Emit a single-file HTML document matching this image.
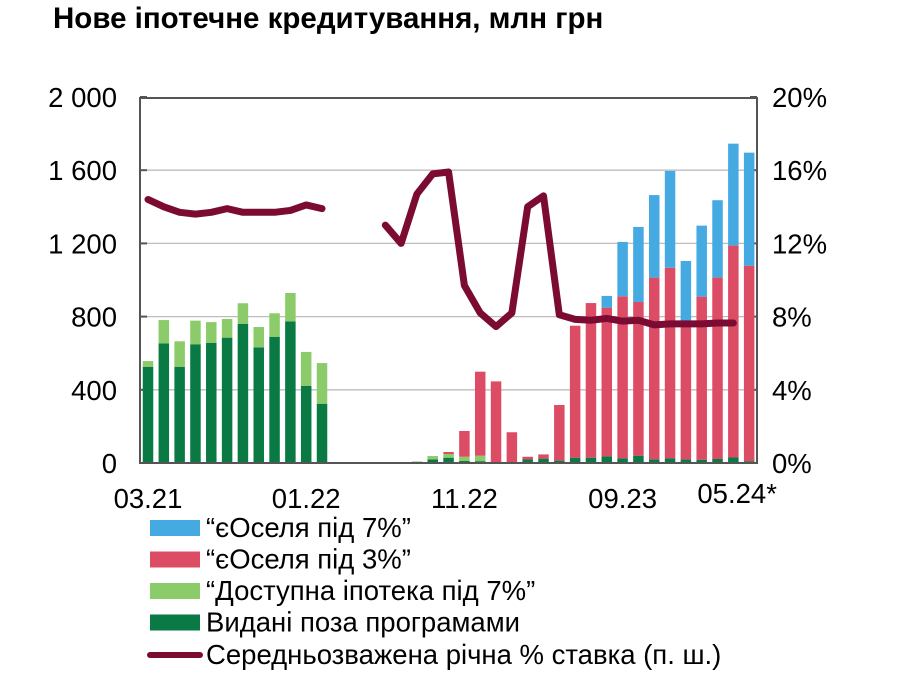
<!DOCTYPE html>
<html><head><meta charset="utf-8"><style>
body{margin:0;background:#fff;width:902px;height:675px;overflow:hidden;font-family:"Liberation Sans",Arial,sans-serif}
svg text{font-family:"Liberation Sans",Arial,sans-serif}
</style></head><body>
<svg id="c" width="902" height="675" xmlns="http://www.w3.org/2000/svg">
<text x="53" y="28" font-size="29.5" font-weight="bold" fill="#000">Нове іпотечне кредитування, млн грн</text>
</svg>
<script>
const months=["03.21","04.21","05.21","06.21","07.21","08.21","09.21","10.21","11.21","12.21","01.22","02.22","03.22","04.22","05.22","06.22","07.22","08.22","09.22","10.22","11.22","12.22","01.23","02.23","03.23","04.23","05.23","06.23","07.23","08.23","09.23","10.23","11.23","12.23","01.24","02.24","03.24","04.24","05.24"];
const outsidePrograms=[526,654,526,649,657,685,761,632,690,774,422,324,0,0,0,0,0,7,20,29,11,10,5,5,19,24,13,29,29,36,26,40,20,25,20,18,22,30,10];
const dostupna=[31,127,139,129,113,102,112,111,128,155,185,222,0,0,0,0,0,0,18,20,23,30,0,0,0,0,0,0,0,0,0,0,0,0,0,0,0,0,0];
const oselia3=[0,0,0,0,0,0,0,0,0,0,0,0,0,0,0,0,0,0,0,11,141,459,441,163,15,23,304,721,845,813,885,840,993,1042,749,891,991,1158,1068];
const oselia7=[0,0,0,0,0,0,0,0,0,0,0,0,0,0,0,0,0,0,0,0,0,0,0,0,0,0,0,0,0,64,297,410,451,529,335,388,423,557,618];
const rate=[14.4,14.0,13.7,13.6,13.7,13.9,13.7,13.7,13.7,13.8,14.1,13.9,null,null,null,13.0,12.0,14.7,15.8,15.9,9.7,8.2,7.45,8.2,14.0,14.6,8.1,7.85,7.8,7.9,7.75,7.8,7.55,7.6,7.6,7.6,7.65,7.65,null];
const leftTicks=[0,400,800,1200,1600,2000];
const leftTickLabels=["0","400","800","1 200","1 600","2 000"];
const rightTickLabels=["0%","4%","8%","12%","16%","20%"];
const xLabelIdx=[0,10,20,30,38];
const xLabels=["03.21","01.22","11.22","09.23","05.24*"];

const NS="http://www.w3.org/2000/svg";
const svg=document.getElementById('c');
const X0=148,STEP=15.82,Y0=463,Y1=97,L=140,R=757;
const FS=27.5;
const x=i=>X0+i*STEP;
const yL=v=>Y0-v*(Y0-Y1)/2000;
const yR=v=>Y0-v*(Y0-Y1)/20;
function el(t,a,p){const e=document.createElementNS(NS,t);for(const k in a)e.setAttribute(k,a[k]);(p||svg).appendChild(e);return e;}
leftTicks.forEach((v,i)=>{
  if(v>0&&v<2000){const g=el('line',{x1:L,x2:R,y1:yL(v),y2:yL(v),stroke:'#bdbdbd','stroke-width':1.3});
  
  }
  const t=el('text',{x:117,y:yL(v)+10,'font-size':FS,'text-anchor':'end',fill:'#000'});t.textContent=leftTickLabels[i];
  
  
  const r=el('text',{x:772,y:yL(v)+10,'font-size':FS,fill:'#000'});r.textContent=rightTickLabels[i];
  
  
  el('line',{x1:L,x2:L+7,y1:yL(v),y2:yL(v),stroke:'#555','stroke-width':2});
  el('line',{x1:R-7,x2:R,y1:yL(v),y2:yL(v),stroke:'#555','stroke-width':2});
});
const W=10.5;
months.forEach((m,i)=>{
  let base=0;
  [[outsidePrograms,'#0a7a45','bar-outside-programs'],[dostupna,'#8ccb6a','bar-dostupna'],[oselia3,'#dc4d65','bar-oselia-3'],[oselia7,'#45aae2','bar-oselia-7']].forEach(([arr,c,n])=>{
    const v=arr[i];if(!v)return;
    const r=el('rect',{x:x(i)-W/2,y:yL(base+v),width:W,height:yL(base)-yL(base+v),fill:c});
    
    
    base+=v;
  });
});
const f=el('rect',{x:L,y:Y1+1,width:R-L,height:Y0-Y1-1,fill:'none',stroke:'#555','stroke-width':2});


let seg=[];const segs=[];
rate.forEach((v,i)=>{if(v==null){if(seg.length)segs.push(seg);seg=[];}else seg.push([x(i),yR(v)]);});
if(seg.length)segs.push(seg);
segs.forEach(s=>{const p=el('polyline',{points:s.map(q=>q.join(',')).join(' '),fill:'none',stroke:'#7b0b32','stroke-width':7,'stroke-linejoin':'round','stroke-linecap':'round'});

});
xLabelIdx.forEach((idx,k)=>{
  const t=el('text',{x:k==4?x(idx)-12:x(idx),y:k==4?503:508,'font-size':FS,'text-anchor':'middle',fill:'#000'});t.textContent=xLabels[k];
  
  
});
const leg=[['#45aae2','“єОселя під 7%”'],['#dc4d65','“єОселя під 3%”'],['#8ccb6a','“Доступна іпотека під 7%”'],['#0a7a45','Видані поза програмами']];
leg.forEach(([c,t],k)=>{
  const cy=528+k*31.5;
  const g=el('g',{});
  
  
  el('rect',{x:150,y:cy-8,width:50,height:16,fill:c},g);
  const tx=el('text',{x:206,y:cy+9,'font-size':FS,fill:'#000'},g);tx.textContent=t;
});
const g5=el('g',{});


el('line',{x1:150,x2:200,y1:655,y2:655,stroke:'#7b0b32','stroke-width':6,'stroke-linecap':'round'},g5);
const t5=el('text',{x:206,y:664,'font-size':FS,fill:'#000'},g5);t5.textContent='Середньозважена річна % ставка (п. ш.)';
</script>
</body></html>
